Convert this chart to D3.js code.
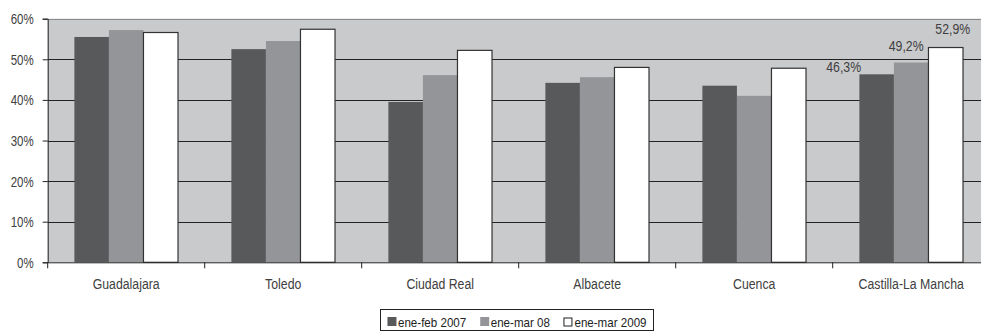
<!DOCTYPE html>
<html><head><meta charset="utf-8">
<script src="https://cdn.jsdelivr.net/npm/d3@7"></script>
<style>
html,body{margin:0;padding:0;background:#fff;}
svg{display:block;font-family:"Liberation Sans Narrow","Liberation Sans",Arial,sans-serif;}
</style></head>
<body><svg id="c" width="981" height="333"></svg>
<script>
const categories = ["Guadalajara","Toledo","Ciudad Real","Albacete","Cuenca","Castilla-La Mancha"];
const seriesNames = ["ene-feb 2007","ene-mar 08","ene-mar 2009"];
const s2007 = [55.5,52.5,39.5,44.2,43.5,46.3];
const s2008 = [57.2,54.5,46.1,45.6,41.0,49.2];
const s2009 = [56.6,57.4,52.2,48.0,47.8,52.9];
const yTicks = [0,10,20,30,40,50,60];
const labelled = [{cat:"Castilla-La Mancha", s:0, text:"46,3%"},{cat:"Castilla-La Mancha", s:1, text:"49,2%"},{cat:"Castilla-La Mancha", s:2, text:"52,9%"}];

const labelOffsets = [{dx:-33,dy:-2},{dx:-5,dy:-12},{dx:7,dy:-14}];
const colors = ["#58595b","#939598","#ffffff"];
const series = [s2007,s2008,s2009];
const NX = 0.82; // narrow factor
const textCol = "#404040";

const svg = d3.select("#c");
const m = {l:47.7, t:18.7, b:262.3};
const plotW = 942;
const x0 = d3.scaleBand().domain(categories).range([m.l, m.l+plotW]).paddingInner(0.34).paddingOuter(0.17);
const x1 = d3.scaleBand().domain(d3.range(3)).range([0, x0.bandwidth()]);
const y = d3.scaleLinear().domain([0,60]).range([m.b, m.t]);

function ntext(sel, x, yy, txt, size, anchor){
  return sel.append("text").attr("transform",`translate(${x},${yy}) scale(${NX},1)`)
    .attr("text-anchor",anchor||"middle").attr("font-size",size).attr("fill",textCol).text(txt);
}

// background
svg.append("rect").attr("x",m.l).attr("y",m.t).attr("width",plotW).attr("height",m.b-m.t).attr("fill","#c9cacc");
// gridlines
svg.append("g").selectAll("line").data(yTicks.filter(d=>d>0 && d<60)).join("line")
  .attr("x1",m.l).attr("x2",m.l+plotW).attr("y1",d=>Math.round(y(d))+0.5).attr("y2",d=>Math.round(y(d))+0.5)
  .attr("stroke","#222").attr("stroke-width",1);
// top border
svg.append("line").attr("x1",m.l).attr("x2",m.l+plotW).attr("y1",Math.round(y(60))+0.5).attr("y2",Math.round(y(60))+0.5).attr("stroke","#8a8a8a").attr("stroke-width",1.2);

// bars
const g = svg.append("g");
categories.forEach((c,i)=>{
  series.forEach((s,k)=>{
    g.append("rect")
      .attr("x", x0(c)+x1(k)).attr("y", y(s[i]))
      .attr("width", x1.bandwidth()).attr("height", y(0)-y(s[i]))
      .attr("fill", colors[k])
      .attr("stroke", k===2 ? "#333" : "none").attr("stroke-width", k===2?1.2:0);
  });
});

// y axis
const ya = svg.append("g").attr("transform",`translate(${m.l},0)`)
  .call(d3.axisLeft(y).tickValues(yTicks).tickSize(5).tickFormat(d=>d+"%"));
ya.select(".domain").attr("stroke","#222");
ya.selectAll(".tick line").attr("stroke","#222");
ya.selectAll(".tick text").each(function(){
  d3.select(this).attr("x",null).attr("dy",null).attr("transform",`translate(-14,5) scale(${NX},1)`)
    .attr("font-size",14).attr("fill",textCol).attr("font-family",null);
});

// x axis
const xa = svg.append("g").attr("transform",`translate(0,${m.b})`)
  .call(d3.axisBottom(x0).tickSize(0));
xa.select(".domain").attr("stroke","#222");
xa.selectAll(".tick text").each(function(){
  d3.select(this).attr("y",null).attr("dy",null).attr("transform",`translate(0,27) scale(${NX},1)`)
    .attr("font-size",15).attr("fill",textCol).attr("font-family",null);
});
// category separators
svg.append("g").selectAll("line").data(d3.range(categories.length+1)).join("line")
  .attr("x1",i=>m.l+i*x0.step()).attr("x2",i=>m.l+i*x0.step())
  .attr("y1",m.b).attr("y2",m.b+6).attr("stroke","#222");

// data labels
labelled.forEach((L,j)=>{
  const i = categories.indexOf(L.cat);
  const v = series[L.s][i];
  ntext(svg, x0(L.cat)+x1(L.s)+x1.bandwidth()/2+labelOffsets[j].dx, y(v)+labelOffsets[j].dy, L.text, 15);
});

// legend
const LX = 0.92;
const lg = svg.append("g");
const items = lg.selectAll("g").data(seriesNames).join("g");
items.append("rect").attr("width",(d,i)=>i===2?8:9).attr("height",(d,i)=>i===2?8:9).attr("y",(d,i)=>i===2?-8.5:-9.5)
  .attr("fill",(d,i)=>colors[i]).attr("stroke",(d,i)=>i===2?"#222":"none");
items.append("text").attr("transform",`translate(10.5,0) scale(${LX},1)`).attr("font-size",12.6).attr("fill","#222").text(d=>d);
let xx = 0;
items.each(function(){ d3.select(this).attr("transform",`translate(${xx},0)`); xx += 10.5 + this.querySelector("text").getComputedTextLength()*LX + 14; });
const totalW = xx - 14;
const legX = 517 - totalW/2, legY = 326.5;
lg.attr("transform",`translate(${legX},${legY})`);
svg.append("rect").attr("x",380.5).attr("y",309.5).attr("width",273).attr("height",21).attr("fill","none").attr("stroke","#222");
</script></body></html>
